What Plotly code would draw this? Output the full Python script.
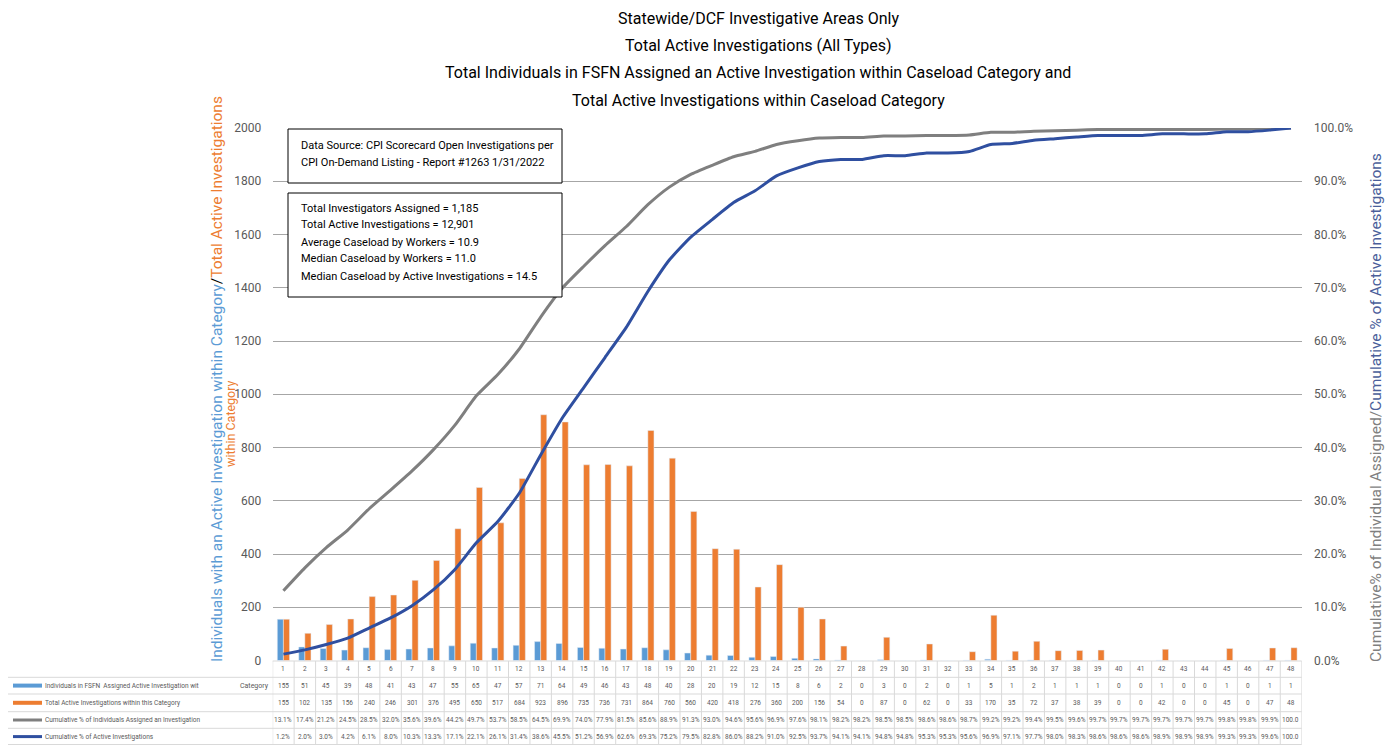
import plotly.graph_objects as go

# ---------------- data ----------------
categories = list(range(1, 49))
individuals = [155, 51, 45, 39, 48, 41, 43, 47, 55, 65, 47, 57, 71, 64, 49, 46, 43, 48, 40, 28,
               20, 19, 12, 15, 8, 6, 2, 0, 3, 0, 2, 0, 1, 5, 1, 2, 1, 1, 1, 0,
               0, 1, 0, 0, 1, 0, 1, 1]
active = [155, 102, 135, 156, 240, 246, 301, 376, 495, 650, 517, 684, 923, 896, 735, 736, 731, 864, 760, 560,
          420, 418, 276, 360, 200, 156, 54, 0, 87, 0, 62, 0, 33, 170, 35, 72, 37, 38, 39, 0,
          0, 42, 0, 0, 45, 0, 47, 48]
cum_ind = [13.1, 17.4, 21.2, 24.5, 28.5, 32.0, 35.6, 39.6, 44.2, 49.7, 53.7, 58.5, 64.5, 69.9, 74.0, 77.9,
           81.5, 85.6, 88.9, 91.3, 93.0, 94.6, 95.6, 96.9, 97.6, 98.1, 98.2, 98.2, 98.5, 98.5, 98.6, 98.6,
           98.7, 99.2, 99.2, 99.4, 99.5, 99.6, 99.7, 99.7, 99.7, 99.7, 99.7, 99.7, 99.8, 99.8, 99.9, 100.0]
cum_act = [1.2, 2.0, 3.0, 4.2, 6.1, 8.0, 10.3, 13.3, 17.1, 22.1, 26.1, 31.4, 38.6, 45.5, 51.2, 56.9,
           62.6, 69.3, 75.2, 79.5, 82.8, 86.0, 88.2, 91.0, 92.5, 93.7, 94.1, 94.1, 94.8, 94.8, 95.3, 95.3,
           95.6, 96.9, 97.1, 97.7, 98.0, 98.3, 98.6, 98.6, 98.6, 98.9, 98.9, 98.9, 99.3, 99.3, 99.6, 100.0]

left_ticks = list(range(0, 2001, 200))
right_ticks = list(range(0, 101, 10))
right_ticktext = ["{:.1f}%".format(v) for v in right_ticks]

series_names = ["Individuals in FSFN  Assigned Active Investigation wit",
                "Total Active Investigations within this Category",
                "Cumulative % of Individuals Assigned an Investigation",
                "Cumulative % of Active Investigations"]
title_lines = ["Statewide/DCF Investigative Areas Only",
               "Total Active Investigations (All Types)",
               "Total Individuals in FSFN Assigned an Active Investigation within Caseload Category and",
               "Total Active Investigations within Caseload Category"]
box1_lines = ["Data Source: CPI Scorecard Open Investigations per",
              "CPI On-Demand Listing - Report #1263 1/31/2022"]
box2_lines = ["Total Investigators Assigned = 1,185",
              "Total Active Investigations = 12,901",
              "Average Caseload by Workers = 10.9",
              "Median Caseload by Workers = 11.0",
              "Median Caseload by Active Investigations = 14.5"]

# ---------------- styling ----------------
W, H = 1397, 745
OFF = 8  # page body margin: figure origin sits 8px right/down in the window
FONT = "Roboto, Lato, sans-serif"
BLUE = "#5B9BD5"
ORANGE = "#ED7D31"
GRAY = "#7F7F7F"
DBLUE = "#2F4FA0"
TXT = "#595959"
GRID = "#A6A6A6"
TBL = "#D9D9D9"


def px(x):
    return (x - OFF) / W


def py(y):
    return 1 - (y - OFF) / H


X0, X1 = 272.7, 1301.7
Y_TOP, Y_BOT = 128, 660.5

fig = go.Figure()
fig.add_bar(x=categories, y=individuals, marker_color=BLUE, name=series_names[0], yaxis="y")
fig.add_bar(x=categories, y=active, marker_color=ORANGE, name=series_names[1], yaxis="y")
fig.add_scatter(x=categories, y=cum_ind, yaxis="y2", mode="lines", name=series_names[2],
                line=dict(color=GRAY, width=3, shape="spline", smoothing=0.5))
fig.add_scatter(x=categories, y=cum_act, yaxis="y2", mode="lines", name=series_names[3],
                line=dict(color=DBLUE, width=3, shape="spline", smoothing=0.5))

shapes = []
annotations = []

# title
title_y = [19, 46, 73, 100]
for t, yy in zip(title_lines, title_y):
    annotations.append(dict(text=t, x=px(758), y=py(yy), xref="paper", yref="paper",
                            showarrow=False, xanchor="center", yanchor="middle",
                            font=dict(size=16, color="#000000", family=FONT)))

# text boxes
shapes.append(dict(type="rect", xref="paper", yref="paper", x0=px(288), x1=px(562), y0=py(129), y1=py(183),
                   line=dict(color="#000000", width=1), fillcolor="white", layer="above"))
shapes.append(dict(type="rect", xref="paper", yref="paper", x0=px(288), x1=px(562), y0=py(193), y1=py(297),
                   line=dict(color="#000000", width=1), fillcolor="white", layer="above"))
for i, t in enumerate(box1_lines):
    annotations.append(dict(text=t, x=px(299), y=py(145 + 17 * i), xref="paper", yref="paper",
                            showarrow=False, xanchor="left", yanchor="middle",
                            font=dict(size=11, color="#000000", family=FONT)))
for i, t in enumerate(box2_lines):
    annotations.append(dict(text=t, x=px(299), y=py(208 + 17 * i), xref="paper", yref="paper",
                            showarrow=False, xanchor="left", yanchor="middle",
                            font=dict(size=11, color="#000000", family=FONT)))

# axis titles
left_title = ("<span style='color:" + BLUE + "'>Individuals with an Active Investigation within Category</span>"
              "<span style='color:#000000'>/</span>"
              "<span style='color:" + ORANGE + "'>Total Active Investigations</span>")
annotations.append(dict(text=left_title, x=px(217), y=py(379), xref="paper", yref="paper",
                        showarrow=False, textangle=-90, xanchor="center", yanchor="middle",
                        font=dict(size=15.5, family=FONT)))
annotations.append(dict(text="within Category", x=px(231), y=py(424), xref="paper", yref="paper",
                        showarrow=False, textangle=-90, xanchor="center", yanchor="middle",
                        font=dict(size=12.5, color=ORANGE, family=FONT)))
right_title = ("<span style='color:" + GRAY + "'>Cumulative% of Individual Assigned/</span>"
               "<span style='color:#4A5E9A'>Cumulative % of Active Investigations</span>")
annotations.append(dict(text=right_title, x=px(1376), y=py(408), xref="paper", yref="paper",
                        showarrow=False, textangle=-90, xanchor="center", yanchor="middle",
                        font=dict(size=15.5, family=FONT)))

# data table
row_borders = [661, 677.3, 694, 711.7, 728.3, 744.5]
row_centers = [669, 685.6, 702.8, 720, 736.6]
for k, yy in enumerate(row_borders):
    xs = X0 if k == 0 else 7
    shapes.append(dict(type="line", xref="paper", yref="paper", x0=px(xs), x1=px(X1), y0=py(yy), y1=py(yy),
                       line=dict(color=TBL, width=1), layer="below"))
shapes.append(dict(type="line", xref="paper", yref="paper", x0=px(7), x1=px(7),
                   y0=py(677.3), y1=py(744.5), line=dict(color=TBL, width=1)))
for c in range(0, 49):
    shapes.append(dict(type="line", xref="x", yref="paper", x0=c + 0.5, x1=c + 0.5,
                       y0=py(661), y1=py(744.5), line=dict(color=TBL, width=1), layer="below"))


def pct(v):
    return "{:.1f}".format(v) if v >= 100 else "{:.1f}%".format(v)


rows = [[str(c) for c in categories],
        [str(v) for v in individuals],
        [str(v) for v in active],
        [pct(v) for v in cum_ind],
        [pct(v) for v in cum_act]]
for r, vals in enumerate(rows):
    for c, t in zip(categories, vals):
        annotations.append(dict(text=t, x=c, y=py(row_centers[r]), xref="x", yref="paper",
                                showarrow=False, xanchor="center", yanchor="middle",
                                font=dict(size=6.5, color=TXT, family=FONT)))

annotations.append(dict(text="Category", x=px(254), y=py(685.6), xref="paper", yref="paper",
                        showarrow=False, xanchor="center", yanchor="middle",
                        font=dict(size=7, color=TXT, family=FONT)))

key_styles = [(BLUE, 4), (ORANGE, 4), (GRAY, 3), (DBLUE, 3)]
for i, (name, (col, wdt)) in enumerate(zip(series_names, key_styles)):
    yy = row_centers[i + 1]
    shapes.append(dict(type="line", xref="paper", yref="paper", x0=px(13), x1=px(42), y0=py(yy), y1=py(yy),
                       line=dict(color=col, width=wdt)))
    annotations.append(dict(text=name, x=px(43), y=py(yy), xref="paper", yref="paper",
                            showarrow=False, xanchor="left", yanchor="middle",
                            font=dict(size=6.5, color=TXT, family=FONT)))

fig.update_layout(
    width=W, height=H, autosize=False,
    margin=dict(l=0, r=0, t=0, b=0, pad=0, autoexpand=False),
    paper_bgcolor="white", plot_bgcolor="white",
    showlegend=False,
    barmode="group", bargap=0.43, bargroupgap=0,
    font=dict(family=FONT, color=TXT),
    xaxis=dict(domain=[px(X0), px(X1)], range=[0.5, 48.5], showticklabels=False, automargin=False,
               showgrid=False, zeroline=False, showline=False, fixedrange=True),
    yaxis=dict(domain=[py(Y_BOT), py(Y_TOP)], range=[0, 2000], tickvals=left_ticks, automargin=False,
               showgrid=True, gridcolor=GRID, gridwidth=1, zeroline=False, showline=False,
               ticks="outside", ticklen=8, tickcolor="rgba(0,0,0,0)",
               tickfont=dict(size=12, color=TXT, family=FONT)),
    yaxis2=dict(overlaying="y", side="right", anchor="x", range=[0, 100], automargin=False,
                tickvals=right_ticks, ticktext=right_ticktext,
                showgrid=False, zeroline=False, showline=False,
                ticks="outside", ticklen=9, tickcolor="rgba(0,0,0,0)",
                tickfont=dict(size=12, color=TXT, family=FONT)),
    shapes=shapes,
    annotations=annotations,
)

fig.write_html("out.html")
